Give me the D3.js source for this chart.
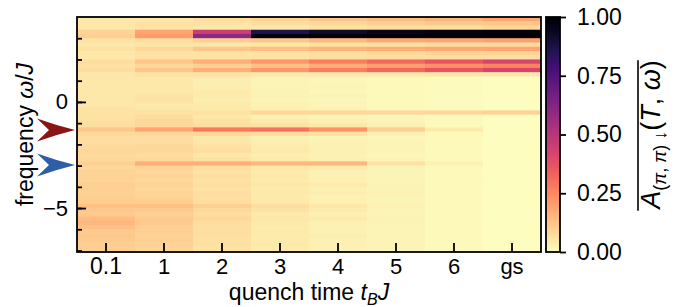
<!DOCTYPE html>
<html>
<head>
<meta charset="utf-8">
<script src="https://cdn.jsdelivr.net/npm/d3@7"></script>
<style>
  body { margin: 0; background: #fff; }
  svg { display: block; font-family: "Liberation Sans", Arial, sans-serif; }
</style>
</head>
<body>
<svg></svg>
<script>
// frequency bin centres (omega / J), top to bottom
const freqs = [3.9, 3.7, 3.5, 3.3, 3.1, 2.9, 2.7, 2.5, 2.3, 2.1, 1.9, 1.7, 1.5, 1.3,
  1.1, 0.9, 0.7, 0.5, 0.3, 0.1, -0.1, -0.3, -0.5, -0.7, -0.9, -1.1, -1.3, -1.5,
  -1.7, -1.9, -2.1, -2.3, -2.5, -2.7, -2.9, -3.1, -3.3, -3.5, -3.7, -3.9, -4.1, -4.3,
  -4.5, -4.7, -4.9, -5.1, -5.3, -5.5, -5.7, -5.9, -6.1, -6.3, -6.5, -6.7, -6.9, -7.1];

const quench = ['0.1', '1', '2', '3', '4', '5', '6', 'gs'];

// normalised spectral weight per quench time, one value per freq bin
const t01 = [0.05,0.05,0.05,0.09,0.10,0.06,0.05,0.06,0.05,0.05,0.07,0.06,0.07,0.05,
  0.05,0.05,0.05,0.05,0.05,0.05,0.05,0.055,0.06,0.06,0.065,0.07,0.12,0.08,
  0.07,0.07,0.075,0.08,0.075,0.08,0.10,0.085,0.09,0.095,0.09,0.10,0.10,0.095,
  0.10,0.105,0.13,0.115,0.11,0.14,0.15,0.13,0.11,0.115,0.11,0.10,0.105,0.10];
const t1 = [0.05,0.06,0.06,0.19,0.21,0.07,0.05,0.08,0.06,0.06,0.12,0.08,0.12,0.06,
  0.05,0.05,0.05,0.05,0.055,0.06,0.05,0.05,0.06,0.07,0.08,0.08,0.19,0.08,
  0.07,0.07,0.08,0.085,0.07,0.08,0.17,0.09,0.08,0.09,0.08,0.09,0.085,0.09,
  0.09,0.10,0.13,0.11,0.10,0.11,0.11,0.10,0.10,0.09,0.10,0.09,0.09,0.09];
const t2 = [0.07,0.06,0.05,0.45,0.60,0.10,0.05,0.12,0.06,0.06,0.17,0.10,0.17,0.06,
  0.035,0.035,0.035,0.04,0.04,0.035,0.04,0.045,0.06,0.05,0.06,0.07,0.28,0.08,
  0.05,0.05,0.06,0.07,0.05,0.06,0.17,0.07,0.06,0.07,0.06,0.065,0.06,0.07,
  0.065,0.07,0.10,0.08,0.07,0.08,0.07,0.065,0.07,0.065,0.06,0.065,0.06,0.06];
const t3 = [0.09,0.07,0.05,0.86,0.97,0.12,0.05,0.14,0.06,0.06,0.22,0.13,0.22,0.05,
  0.02,0.02,0.02,0.025,0.025,0.02,0.025,0.03,0.08,0.03,0.04,0.06,0.30,0.07,
  0.03,0.035,0.04,0.045,0.035,0.04,0.15,0.05,0.04,0.045,0.04,0.05,0.04,0.045,
  0.04,0.045,0.07,0.06,0.045,0.05,0.045,0.04,0.045,0.04,0.04,0.045,0.04,0.04];
const t4 = [0.12,0.08,0.06,0.92,0.99,0.15,0.06,0.16,0.07,0.07,0.27,0.17,0.27,0.05,
  0.015,0.015,0.02,0.015,0.02,0.015,0.02,0.02,0.08,0.02,0.03,0.05,0.23,0.06,
  0.02,0.025,0.03,0.03,0.025,0.03,0.15,0.04,0.03,0.03,0.03,0.04,0.03,0.035,
  0.03,0.03,0.05,0.04,0.03,0.04,0.03,0.03,0.03,0.035,0.03,0.03,0.03,0.03];
const t5 = [0.14,0.10,0.07,0.95,1.00,0.18,0.06,0.17,0.08,0.07,0.32,0.20,0.32,0.05,
  0.01,0.01,0.01,0.01,0.01,0.01,0.01,0.01,0.08,0.015,0.02,0.03,0.10,0.03,
  0.015,0.02,0.02,0.02,0.015,0.02,0.06,0.02,0.02,0.02,0.02,0.025,0.02,0.025,
  0.02,0.02,0.03,0.02,0.02,0.025,0.02,0.02,0.02,0.02,0.02,0.02,0.02,0.02];
const t6 = [0.16,0.11,0.07,0.97,1.00,0.19,0.07,0.18,0.09,0.07,0.37,0.23,0.37,0.05,
  0.005,0.005,0.005,0.005,0.005,0.005,0.005,0.005,0.08,0.01,0.01,0.01,0.04,0.01,
  0.01,0.01,0.01,0.01,0.01,0.01,0.025,0.01,0.01,0.01,0.01,0.01,0.01,0.01,
  0.01,0.01,0.01,0.01,0.01,0.01,0.01,0.01,0.01,0.01,0.01,0.01,0.01,0.01];
const tgs = [0.18,0.12,0.08,0.98,1.00,0.20,0.07,0.19,0.09,0.07,0.42,0.26,0.42,0.05,
  0,0,0,0,0,0,0,0,0.09,0,0,0,0,0,
  0,0,0,0,0,0,0,0,0,0,0,0,0,0,
  0,0,0,0,0,0,0,0,0,0,0,0,0,0];

const yTicks = [-7, -6, -5, -4, -3, -2, -1, 0, 1, 2, 3];
const yMajorTicks = [-5, 0];
const cbTicks = [0, 0.25, 0.5, 0.75, 1];
const arrowFreqs = [-1.32, -2.97];
const arrowColors = ['#8b1414', '#2e5ea8'];

const columns = [t01, t1, t2, t3, t4, t5, t6, tgs];

const W = 679, H = 307;
const plot = {left: 77, right: 541, top: 17, bottom: 252};
const cbar = {left: 546, right: 560};
const fs = 22;

const svg = d3.select('svg').attr('width', W).attr('height', H);

const xScale = d3.scaleBand().domain(quench).range([plot.left, plot.right]);
const yScale = d3.scaleLinear().domain([-7.07, 4.0]).range([plot.bottom, plot.top]);
const color = v => d3.interpolateMagma(1 - v);
const half = (freqs[0] - freqs[1]) / 2;

const cells = [];
columns.forEach((vals, j) => vals.forEach((v, i) => cells.push({q: quench[j], f: freqs[i], v: v})));

svg.append('clipPath').attr('id', 'clip').append('rect')
  .attr('x', plot.left).attr('y', plot.top)
  .attr('width', plot.right - plot.left).attr('height', plot.bottom - plot.top);

svg.append('g').attr('clip-path', 'url(#clip)')
  .selectAll('rect').data(cells).join('rect')
    .attr('x', d => xScale(d.q))
    .attr('width', xScale.bandwidth() + 0.6)
    .attr('y', d => yScale(d.f + half))
    .attr('height', d => yScale(d.f - half) - yScale(d.f + half) + 0.6)
    .attr('fill', d => color(d.v));

const styleAxis = g => {
  g.select('.domain').remove();
  g.selectAll('.tick line').attr('stroke', '#000').attr('stroke-width', 1.8);
  g.selectAll('.tick text').attr('font-size', fs).attr('fill', '#000')
    .attr('font-family', '"Liberation Sans", Arial, sans-serif');
};

// left axis: minor ticks + labelled majors, pointing inward
svg.append('g').attr('transform', `translate(${plot.left},0)`)
  .call(d3.axisLeft(yScale).tickValues(yTicks).tickSize(-5).tickFormat(''))
  .call(styleAxis);
svg.append('g').attr('transform', `translate(${plot.left},0)`)
  .call(d3.axisLeft(yScale).tickValues(yMajorTicks).tickSize(-9).tickPadding(9))
  .call(styleAxis);

svg.append('g').attr('transform', `translate(0,${plot.bottom})`)
  .call(d3.axisBottom(xScale).tickSize(-9).tickPadding(6))
  .call(styleAxis);

svg.append('rect')
  .attr('x', plot.left).attr('y', plot.top)
  .attr('width', plot.right - plot.left).attr('height', plot.bottom - plot.top)
  .attr('fill', 'none').attr('stroke', '#000').attr('stroke-width', 1.8);

// axis labels
const xl = svg.append('text')
  .attr('x', (plot.left + plot.right) / 2).attr('y', 300)
  .attr('text-anchor', 'middle').attr('font-size', fs + 1);
xl.append('tspan').text('quench time ');
xl.append('tspan').attr('font-style', 'italic').text('t');
xl.append('tspan').attr('font-style', 'italic').attr('font-size', 16).attr('dy', 5).text('B');
xl.append('tspan').attr('font-style', 'italic').attr('dy', -5).text('J');

const yl = svg.append('text')
  .attr('transform', `translate(33,${(plot.top + plot.bottom) / 2}) rotate(-90)`)
  .attr('text-anchor', 'middle').attr('font-size', fs + 1);
yl.append('tspan').text('frequency ');
yl.append('tspan').attr('font-style', 'italic').text('ω');
yl.append('tspan').text('/');
yl.append('tspan').attr('font-style', 'italic').text('J');

// arrows marking the two lines
svg.selectAll('path.arrow').data(arrowFreqs).join('path')
  .attr('class', 'arrow')
  .attr('fill', (d, i) => arrowColors[i])
  .attr('d', d => {
    const y = yScale(d), tip = plot.left - 2;
    return `M${tip},${y} Q${tip - 20},${y - 5} ${tip - 38},${y - 11.5} L${tip - 26},${y} L${tip - 38},${y + 11.5} Q${tip - 20},${y + 5} ${tip},${y} Z`;
  });

// colorbar
const grad = svg.append('defs').append('linearGradient').attr('id', 'cbgrad')
  .attr('x1', 0).attr('y1', 1).attr('x2', 0).attr('y2', 0);
d3.range(0, 1.0001, 0.05).forEach(t => grad.append('stop').attr('offset', t).attr('stop-color', color(t)));

const cbScale = d3.scaleLinear().domain([0, 1]).range([plot.bottom, plot.top]);
svg.append('rect')
  .attr('x', cbar.left).attr('y', plot.top)
  .attr('width', cbar.right - cbar.left).attr('height', plot.bottom - plot.top)
  .attr('fill', 'url(#cbgrad)').attr('stroke', '#000').attr('stroke-width', 1.8);
svg.append('g').attr('transform', `translate(${cbar.right},0)`)
  .call(d3.axisRight(cbScale).tickValues(cbTicks).tickFormat(d3.format('.2f')).tickSize(6).tickPadding(11))
  .call(styleAxis);
svg.selectAll('g.tick text').filter(function() { return this.textContent.includes('.'); })
  .attr('font-size', fs + 1);

const cg = svg.append('g').attr('transform', `translate(660,${(plot.top + plot.bottom) / 2}) rotate(-90)`);
const cl = cg.append('text').attr('text-anchor', 'middle').attr('font-size', 27);
cl.append('tspan').attr('font-style', 'italic').text('A');
const sub = cl.append('tspan').attr('font-size', 18).attr('dy', 6);
sub.append('tspan').text('(');
sub.append('tspan').attr('font-style', 'italic').text('π');
sub.append('tspan').text(', ');
sub.append('tspan').attr('font-style', 'italic').text('π');
sub.append('tspan').text(') ↓');
cl.append('tspan').attr('dy', -6).text('(');
cl.append('tspan').attr('font-style', 'italic').text('T');
cl.append('tspan').text(', ');
cl.append('tspan').attr('font-style', 'italic').text('ω');
cl.append('tspan').text(')');
const bb = cl.node().getBBox();
cg.append('line')
  .attr('x1', bb.x).attr('x2', bb.x + bb.width)
  .attr('y1', bb.y + 2).attr('y2', bb.y + 2)
  .attr('stroke', '#000').attr('stroke-width', 1.6);
</script>
</body>
</html>
